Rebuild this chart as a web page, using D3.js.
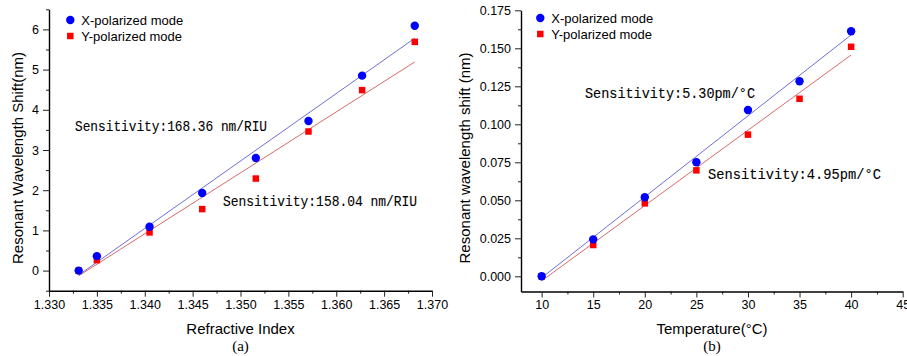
<!DOCTYPE html>
<html>
<head>
<meta charset="utf-8">
<script src="https://cdn.jsdelivr.net/npm/d3@7"></script>
<style>
  body { margin: 0; background: #fff; }
  svg text { font-family: Arial, "Liberation Sans", sans-serif; fill: #000; }
  .sens { font-family: "Liberation Mono", "DejaVu Sans Mono", monospace; }
  .cap { font-family: "Liberation Serif", "DejaVu Serif", serif; }
</style>
</head>
<body>
<svg id="chart" width="907" height="356"></svg>
<script>
// ---- data: panel (a) refractive index ----
const riX = [1.3331, 1.3350, 1.3405, 1.3460, 1.3516, 1.3571, 1.3627, 1.3682];
const riXpol = [0.00, 0.36, 1.09, 1.93, 2.80, 3.72, 4.85, 6.09];
const riYpol = [0.00, 0.26, 0.95, 1.53, 2.29, 3.46, 4.49, 5.69];
const riFitX = [[1.3331, -0.11], [1.3682, 5.78]];
const riFitY = [[1.3331, -0.13], [1.3682, 5.19]];
const riXTicks = [1.330, 1.335, 1.340, 1.345, 1.350, 1.355, 1.360, 1.365, 1.370];
const riYTicks = [0, 1, 2, 3, 4, 5, 6];

// ---- data: panel (b) temperature ----
const tempX = [10, 15, 20, 25, 30, 35, 40];
const tempXpol = [0.000, 0.0243, 0.0520, 0.0750, 0.1094, 0.1283, 0.1612];
const tempYpol = [0.000, 0.0206, 0.0480, 0.0697, 0.0932, 0.1168, 0.1510];
const tempFitX = [[10, -0.001], [40, 0.1588]];
const tempFitY = [[10, -0.003], [40, 0.1456]];
const tempXTicks = [10, 15, 20, 25, 30, 35, 40, 45];
const tempYTicks = [0, 0.025, 0.05, 0.075, 0.1, 0.125, 0.15, 0.175];

const seriesNames = ["X-polarized mode", "Y-polarized mode"];

const svg = d3.select("#chart");

function drawPanel(cfg) {
    const x = d3.scaleLinear().domain(cfg.xDomain).range(cfg.xRange);
    const y = d3.scaleLinear().domain(cfg.yDomain).range(cfg.yRange);
    const g = svg.append("g");

    // minor ticks
    g.append("g")
        .attr("transform", `translate(0,${cfg.yRange[0]})`)
        .call(d3.axisBottom(x).tickValues(cfg.xMinor).tickSize(3).tickFormat(""))
        .call(a => a.select(".domain").remove());
    g.append("g")
        .attr("transform", `translate(${cfg.xRange[0]},0)`)
        .call(d3.axisLeft(y).tickValues(cfg.yMinor).tickSize(3).tickFormat(""))
        .call(a => a.select(".domain").remove());

    // major axes
    const xa = g.append("g")
        .attr("transform", `translate(0,${cfg.yRange[0]})`)
        .call(d3.axisBottom(x).tickValues(cfg.xTicks).tickSize(6).tickSizeOuter(0).tickPadding(3).tickFormat(cfg.xFmt));
    const ya = g.append("g")
        .attr("transform", `translate(${cfg.xRange[0]},0)`)
        .call(d3.axisLeft(y).tickValues(cfg.yTicks).tickSize(6).tickSizeOuter(0).tickPadding(4).tickFormat(cfg.yFmt));
    [xa, ya].forEach(a => {
        a.selectAll("text").style("font-size", "12.5px").attr("fill", "#000");
        a.select(".domain").attr("stroke-width", 1.4);
    });
    g.selectAll(".tick line").attr("stroke", "#222");

    // fit lines
    const line = d3.line().x(d => x(d[0])).y(d => y(d[1]));
    g.append("path").datum(cfg.fitX).attr("d", line)
        .attr("fill", "none").attr("stroke", "#6f6fd8").attr("stroke-width", 1);
    g.append("path").datum(cfg.fitY).attr("d", line)
        .attr("fill", "none").attr("stroke", "#d86a6a").attr("stroke-width", 1);

    // points
    const sq = 6.5;
    g.selectAll(".ysq").data(cfg.xs.map((v, i) => [v, cfg.yPol[i]])).enter()
        .append("rect")
        .attr("x", d => x(d[0]) - sq / 2).attr("y", d => y(d[1]) - sq / 2)
        .attr("width", sq).attr("height", sq).attr("fill", "#ff0000");
    g.selectAll(".xc").data(cfg.xs.map((v, i) => [v, cfg.xPol[i]])).enter()
        .append("circle")
        .attr("cx", d => x(d[0])).attr("cy", d => y(d[1]))
        .attr("r", 4.2).attr("fill", "#0000ff");

    // legend
    const lg = g.append("g").attr("transform", `translate(${cfg.legend[0]},${cfg.legend[1]})`);
    lg.append("circle").attr("cx", 0).attr("cy", 0).attr("r", 4.2).attr("fill", "#0000ff");
    lg.append("rect").attr("x", -sq / 2).attr("y", 16 - sq / 2).attr("width", sq).attr("height", sq).attr("fill", "#ff0000");
    seriesNames.forEach((s, i) => {
        lg.append("text").attr("x", 11).attr("y", i * 16 + 4.5)
            .style("font-size", "13px").text(s);
    });

    // sensitivity annotations
    cfg.notes.forEach(n => {
        g.append("text").attr("class", "sens")
            .attr("x", n.x).attr("y", n.y)
            .attr("textLength", n.w).attr("lengthAdjust", "spacingAndGlyphs")
            .attr("stroke", "#000").attr("stroke-width", 0.12)
            .style("font-size", "15px").text(n.t);
    });

    // axis titles
    g.append("text").attr("x", cfg.xTitleX).attr("y", 334)
        .attr("text-anchor", "middle").style("font-size", "15px").text(cfg.xTitle);
    g.append("text").attr("class", "cap").attr("x", cfg.xTitleX).attr("y", 351)
        .attr("text-anchor", "middle").style("font-size", "15px").text(cfg.cap);
    g.append("text")
        .attr("transform", `translate(${cfg.yTitleX},${cfg.yTitleY}) rotate(-90)`)
        .attr("text-anchor", "middle").style("font-size", "15px").text(cfg.yTitle);
}

drawPanel({
    xDomain: [1.330, 1.370], xRange: [49, 432],
    yDomain: [-0.5, 6.5], yRange: [290.7, 9.3],
    xTicks: riXTicks, yTicks: riYTicks,
    xMinor: d3.range(1.3325, 1.370, 0.005),
    yMinor: d3.range(-0.5, 6.6, 1),
    xFmt: d3.format(".3f"), yFmt: d3.format("d"),
    xs: riX, xPol: riXpol, yPol: riYpol, fitX: riFitX, fitY: riFitY,
    legend: [70.3, 20],
    notes: [
        { x: 75, y: 131, w: 192, t: "Sensitivity:168.36 nm/RIU" },
        { x: 223, y: 206, w: 194, t: "Sensitivity:158.04 nm/RIU" }
    ],
    xTitle: "Refractive Index", xTitleX: 240.5, cap: "(a)",
    yTitle: "Resonant Wavelength Shift(nm)", yTitleX: 23, yTitleY: 158
});

drawPanel({
    xDomain: [8, 45], xRange: [521, 902.7],
    yDomain: [-0.01, 0.175], yRange: [291.5, 10.3],
    xTicks: tempXTicks, yTicks: tempYTicks,
    xMinor: d3.range(12.5, 45, 5),
    yMinor: d3.range(0.0125, 0.175, 0.025),
    xFmt: d3.format("d"), yFmt: d3.format(".3f"),
    xs: tempX, xPol: tempXpol, yPol: tempYpol, fitX: tempFitX, fitY: tempFitY,
    legend: [540.3, 18],
    notes: [
        { x: 585, y: 98, w: 170, t: "Sensitivity:5.30pm/°C" },
        { x: 708, y: 179, w: 173, t: "Sensitivity:4.95pm/°C" }
    ],
    xTitle: "Temperature(°C)", xTitleX: 712, cap: "(b)",
    yTitle: "Resonant wavelength shift (nm)", yTitleX: 470, yTitleY: 158
});
</script>
</body>
</html>
